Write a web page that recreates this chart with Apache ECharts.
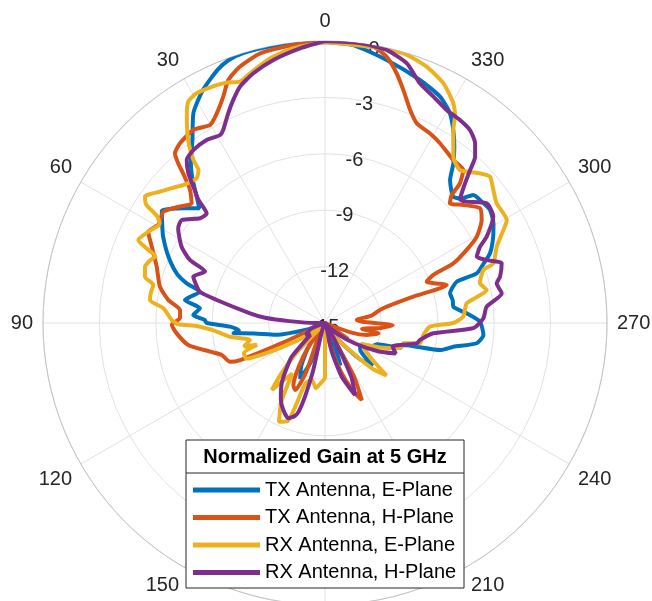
<!DOCTYPE html>
<html>
<head>
<meta charset="utf-8">
<title>Normalized Gain at 5 GHz</title>
<script src="https://cdn.jsdelivr.net/npm/echarts@6/dist/echarts.min.js"></script>
<style>
  html, body { margin: 0; padding: 0; background: #fff; }
  #chart { width: 652px; height: 601px; }
</style>
</head>
<body>
<div id="chart"></div>
<script>
// angle ticks (deg, counter-clockwise from top) and radial ticks (dB)
const angleTicks = [0, 30, 60, 90, 120, 150, 180, 210, 240, 270, 300, 330];
const gainTicks = [-15, -12, -9, -6, -3, 0];
const seriesNames = ['TX Antenna, E-Plane', 'TX Antenna, H-Plane', 'RX Antenna, E-Plane', 'RX Antenna, H-Plane'];
const seriesColors = ['#0072BD', '#D95319', '#EDB120', '#7E2F8E'];

// [angle (deg), normalized gain (dB)]
const txE = [
  [0, -0.05], [6, 0], [12, 0], [17, 0], [20, -0.1], [23, -0.37], [27.6, -1.0], [32, -1.8], [36, -3.0], [40, -3.9],
  [42.3, -4.5], [45, -5.3], [47.6, -5.95], [51, -5.3], [55.5, -4.47], [59, -4.9], [62, -5.25], [67, -5.95], [71.5, -6.68], [74, -7.35],
  [76, -8.14], [79, -7.7], [80.7, -7.45], [83.3, -8.3], [86.5, -7.98], [88.6, -8.6], [90, -8.7], [92.2, -9.95], [95, -10.4], [96.4, -10.1],
  [98.4, -11.2], [103.5, -12.3], [110, -14], [120, -15], [135, -15], [145, -13.5], [151, -12.4], [156, -11.75], [160, -12.8], [165, -15],
  [180, -15], [192, -14.5], [196, -13.5], [200, -12.6], [204, -13.8], [210, -15], [218, -14], [224, -12.3], [228, -11.6], [232, -12.6],
  [238, -12.8], [244, -12.2], [248, -12], [251.6, -10.8], [254.3, -10.68], [256.8, -8.7], [259.5, -8.06], [262.4, -6.86], [265.7, -6.55], [270.5, -6.76],
  [273.9, -7.45], [277.2, -8.12], [280, -8.1], [283.4, -8.16], [287.4, -7.66], [288.1, -6.51], [290.5, -6.0], [292.9, -5.47], [297.2, -4.94], [300.5, -4.6],
  [304.4, -4.36], [307.5, -4.45], [310.8, -4.58], [312.5, -5.2], [314.6, -5.43], [318.8, -4.9], [321.2, -4.1], [324, -3.3], [326.4, -2.67], [329.2, -2.02],
  [333, -1.5], [338.6, -1.12], [346.8, -0.63], [354.2, -0.14], [360, -0.05]
];
const txH = [
  [0, 0], [6.5, -0.12], [13.5, -0.25], [18.4, -0.64], [21.7, -1.09], [24.2, -1.8], [27.3, -2.45], [30.1, -2.82], [34.3, -2.57], [38.9, -2.72],
  [41.5, -2.95], [42.6, -3.46], [43.6, -4.1], [45.4, -4.92], [48.1, -5.47], [52, -5.0], [55.5, -4.56], [59.5, -4.71], [62.7, -4.42], [66.2, -4.93],
  [71.5, -5.56], [77.6, -6.01], [81.6, -6.57], [84.9, -7.26], [88.1, -7.28], [90.7, -6.85], [94, -7.09], [99.1, -7.63], [104, -8.7], [107.2, -9.25],
  [112.2, -9.54], [113.6, -10.08], [115, -12.5], [118, -15], [135, -15], [145, -13.5], [149, -12.3], [153, -11.3], [156, -11.1], [159, -12.2],
  [163, -15], [185, -15], [193, -13.8], [198, -12.3], [202, -11.2], [205.5, -10.45], [208.5, -11.8], [213, -15], [225, -15], [235, -13.5],
  [242, -15], [250, -13.5], [254, -12.7], [259, -12.1], [261, -13], [265, -12], [268, -11.4], [272, -13], [275.4, -13.3], [279, -12.5],
  [283.3, -12], [284.8, -11.6], [286.6, -10.1], [287.3, -8.22], [289.5, -8.7], [292.1, -9.16], [293.9, -8.7], [294.9, -7.47], [297.3, -6.52], [299.6, -5.72],
  [303.3, -5.03], [306.5, -4.74], [310.5, -5.33], [313.8, -5.8], [315.3, -5.42], [316, -4.67], [317.9, -4.03], [321.8, -3.97], [327.4, -3.65], [331, -3.47],
  [335.3, -3.31], [338.2, -2.8], [341.4, -1.93], [344, -1.18], [347, -0.46], [350.1, -0.08], [355, 0], [360, 0]
];
const rxE = [
  [0, -0.05], [6.6, -0.29], [11.7, -0.62], [16.7, -1.13], [19.4, -1.39], [22, -1.2], [24.5, -1.09], [29.2, -1.0], [31.7, -1.16], [33.8, -1.79],
  [36.8, -2.85], [38.9, -3.85], [39.6, -4.44], [41.6, -4.71], [45.8, -4.48], [47.4, -4.29], [51.5, -3.78], [54.9, -3.3], [56.5, -3.6], [57.5, -4.4],
  [59, -4.74], [62.7, -4.42], [66, -4.13], [67.3, -4.7], [68.5, -5.3], [70.5, -5.1], [72.6, -4.97], [75.6, -5.11], [77.5, -5.65], [80, -5.6],
  [82.5, -5.61], [84.8, -6.37], [88.9, -6.85], [90.5, -7.2], [91.3, -8.18], [93.9, -9.1], [96, -9.5], [98.2, -9.9], [102.8, -10.9], [106.2, -10.5],
  [107.8, -11.2], [110.4, -10.4], [114.3, -10.4], [119.6, -12.45], [126, -14], [132, -15], [136, -13], [139, -11.5], [141.5, -10.45], [144, -11.2],
  [147, -11.8], [151, -10.2], [155, -9.2], [159, -9.4], [162, -11.6], [167, -11.9], [172, -11.5], [176, -11.8], [180, -12.1], [184, -15],
  [200, -15], [212, -14.5], [220, -13.5], [226, -11.5], [229.5, -10.7], [233, -12], [240, -12.8], [246, -11.8], [251.5, -10.8], [255.5, -10.7],
  [258, -9.83], [263, -9.73], [268, -9.41], [270, -8.18], [272.6, -7.64], [277.9, -7.39], [281.5, -6.22], [284.4, -6.49], [288.5, -6.12], [289.5, -5.5],
  [294, -5.0], [297.5, -4.3], [299.5, -3.89], [304.9, -3.87], [308.3, -3.59], [311.6, -3.27], [314, -3.54], [318.6, -4.15], [322.3, -3.83], [326.4, -2.67],
  [327.8, -2.03], [329.7, -1.47], [333.7, -0.78], [338.4, -0.33], [343.8, -0.06], [350.7, -0.11], [360, -0.05]
];
const rxH = [
  [0, 0], [5.2, -0.33], [11.1, -0.74], [16, -1.18], [19.8, -1.64], [22.4, -2.18], [24.8, -2.72], [27.8, -3.39], [29.2, -3.55], [32.9, -3.41],
  [37.3, -3.44], [40.3, -3.63], [42.4, -4.22], [44, -4.92], [45.8, -5.61], [47.2, -6.42], [50, -6.33], [54.3, -5.61], [57.2, -5.71], [62, -6.36],
  [65, -7.07], [66.8, -8.06], [70.6, -7.57], [73, -7.8], [76, -8.14], [78, -9.11], [82.6, -10.98], [85, -11.8], [87, -13.1], [90, -14.5],
  [100, -15], [112, -14.2], [122, -13.8], [129, -14], [135.3, -12.5], [140, -11.8], [144.3, -11.05], [150, -10.3], [154.4, -9.87], [158.9, -9.57],
  [162, -9.8], [163.5, -10.1], [164.8, -10.94], [166, -12.4], [170, -15], [187, -15], [193, -13.5], [197.3, -12], [202.6, -10.85], [206, -11.8],
  [210, -14], [216, -15], [228, -14.2], [236, -13], [242, -11.8], [246.6, -10.9], [251, -11.2], [257.5, -10], [259.9, -9.87], [264.6, -9.21],
  [268, -7.11], [271.7, -6.57], [275.8, -6.36], [279.5, -5.47], [283, -5.63], [284.8, -5.37], [288.7, -5.08], [291, -5.7], [293.6, -6.19], [296.2, -5.81],
  [298.1, -5.25], [302.3, -4.41], [306.5, -4.3], [310.6, -5.08], [312.5, -5.25], [314.6, -4.6], [316.5, -3.79], [317.9, -3.09], [320.1, -2.55], [323.1, -2.16],
  [326.4, -2.03], [330.3, -1.95], [334.4, -1.65], [338.4, -1.29], [342.5, -0.52], [347.3, -0.11], [353, 0], [360, 0]
];
const seriesData = [txE, txH, rxE, rxH];

const FONT = "'Liberation Sans', Arial, Helvetica, sans-serif";
const chart = echarts.init(document.getElementById('chart'));

const option = {
  animation: false,
  backgroundColor: '#fff',
  polar: [
    { center: [325, 323], radius: 282 },
    { center: [325, 323], radius: 282 }
  ],
  angleAxis: [
    {
      polarIndex: 0,
      type: 'value',
      startAngle: 90,
      clockwise: false,
      min: 0,
      max: 360,
      interval: 30,
      axisLine: { lineStyle: { color: '#c4c4c4', width: 1 } },
      axisTick: { show: false },
      axisLabel: {
        margin: 10,
        fontSize: 20,
        fontFamily: FONT,
        color: '#262626',
        formatter: function (v) { return angleTicks.indexOf(v) >= 0 ? String(v) : ''; }
      },
      splitLine: { show: true, lineStyle: { color: '#e2e2e2', width: 1 } }
    },
    {
      // second polar only carries the dB labels, drawn 10 deg right of the top
      polarIndex: 1,
      type: 'value',
      startAngle: 80,
      min: 0,
      max: 360,
      show: false
    }
  ],
  radiusAxis: [
    {
      polarIndex: 0,
      type: 'value',
      min: gainTicks[0],
      max: gainTicks[gainTicks.length - 1],
      interval: 3,
      axisLine: { show: false },
      axisTick: { show: false },
      axisLabel: { show: false },
      splitLine: { show: true, lineStyle: { color: '#e2e2e2', width: 1 } }
    },
    {
      polarIndex: 1,
      type: 'value',
      min: gainTicks[0],
      max: gainTicks[gainTicks.length - 1],
      interval: 3,
      axisLine: { show: false },
      axisTick: { show: false },
      splitLine: { show: false },
      z: 1,
      axisLabel: {
        margin: 0,
        align: 'center',
        verticalAlign: 'top',
        lineHeight: 8,
        fontSize: 20,
        fontFamily: FONT,
        color: '#262626',
        showMinLabel: true,
        showMaxLabel: true
      }
    }
  ],
  legend: {
    orient: 'vertical',
    left: 193,
    top: 480,
    padding: 0,
    itemWidth: 67,
    itemHeight: 5,
    itemGap: 7.5,
    icon: 'rect',
    z: 20,
    textStyle: { fontSize: 20, lineHeight: 20, fontFamily: FONT, color: '#000' },
    data: seriesNames
  },
  graphic: [
    {
      type: 'rect',
      z: 15,
      shape: { x: 186, y: 440, width: 278, height: 148 },
      style: { fill: '#fff', stroke: '#262626', lineWidth: 1 }
    },
    {
      type: 'line',
      z: 16,
      shape: { x1: 186, y1: 473, x2: 464, y2: 473 },
      style: { stroke: '#262626', lineWidth: 1 }
    },
    {
      type: 'text',
      z: 16,
      x: 325,
      y: 457,
      style: {
        text: 'Normalized Gain at 5 GHz',
        fill: '#000',
        font: 'bold 20px ' + FONT,
        textAlign: 'center',
        textVerticalAlign: 'middle'
      }
    }
  ],
  series: seriesData.map(function (pts, i) {
    return {
      name: seriesNames[i],
      type: 'line',
      coordinateSystem: 'polar',
      polarIndex: 0,
      symbol: 'none',
      smooth: 0.2,
      z: 3,
      color: seriesColors[i],
      lineStyle: { width: 4, color: seriesColors[i] },
      data: pts.map(function (p) { return [Math.max(p[1], gainTicks[0]), p[0]]; })
    };
  })
};

chart.setOption(option);
</script>
</body>
</html>
